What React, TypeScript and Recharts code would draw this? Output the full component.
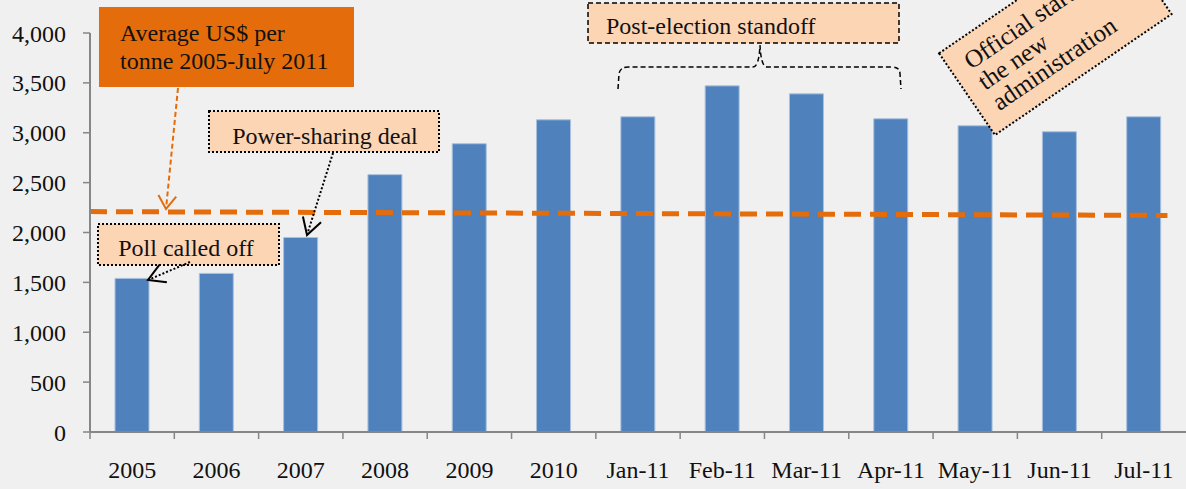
import { BarChart, Bar, XAxis, YAxis, ReferenceLine } from 'recharts';

// Cocoa price, US$ per tonne (yearly averages, then monthly for 2011)
const categories = ['2005', '2006', '2007', '2008', '2009', '2010', 'Jan-11', 'Feb-11', 'Mar-11', 'Apr-11', 'May-11', 'Jun-11', 'Jul-11'];
const pricePerTonne = [1540, 1590, 1950, 2580, 2890, 3130, 3160, 3470, 3390, 3140, 3070, 3010, 3160];
const yTicks = [0, 500, 1000, 1500, 2000, 2500, 3000, 3500, 4000];
// the drawn average line, read at the first and last category
const averageLine = [2208, 2172];

const W = 1186;
const H = 489;
const FONT = '"Liberation Serif", "Times New Roman", serif';
const ORANGE = '#e46c0a';
const PEACH = '#fcd5b5';
const BLUE = '#4f81bd';
const AXIS = '#868686';
const INK = '#111';

const data = categories.map((label, i) => ({ label, price: pricePerTonne[i] }));

function arrowHead(x1: number, y1: number, x2: number, y2: number, len = 18, spread = 32) {
  const a = Math.atan2(y1 - y2, x1 - x2);
  const s = (spread * Math.PI) / 180;
  return `${x2 + len * Math.cos(a + s)},${y2 + len * Math.sin(a + s)} ${x2},${y2} ${x2 + len * Math.cos(a - s)},${y2 + len * Math.sin(a - s)}`;
}

// category label with the tick mark on the left edge of its band
function BandTick(props: any) {
  const { x, y, payload } = props;
  const half = payload?.offset || 42.15;
  return (
    <g>
      <line x1={x - half} y1={y} x2={x - half} y2={y + 7} stroke={AXIS} strokeWidth={1.5} />
      <text x={x} y={y + 29} dy="0.71em" textAnchor="middle" fill={INK} fontSize={24} fontFamily={FONT}>
        {payload.value}
      </text>
    </g>
  );
}

// dashed average line, stretched from the y axis to just short of the right edge
function AverageShape(props: any) {
  const { x1, y1, x2, y2 } = props;
  const step = (x2 - x1) / (categories.length - 1);
  const slope = (y2 - y1) / (x2 - x1);
  const sx = x1 - step / 2;
  const ex = x2 + step * 0.28;
  return (
    <line
      x1={sx}
      y1={y1 + slope * (sx - x1)}
      x2={ex}
      y2={y1 + slope * (ex - x1)}
      stroke={ORANGE}
      strokeWidth={5}
      strokeDasharray="17 9"
    />
  );
}

function Annotations() {
  const txt = { fontFamily: FONT, fontSize: 24, fill: INK };
  return (
    <svg width={W} height={H} style={{ position: 'absolute', left: 0, top: 0, pointerEvents: 'none' }}>
      {/* average label */}
      <rect x={99} y={7} width={255} height={80} fill={ORANGE} />
      <text x={120} y={41} {...txt}>Average US$ per</text>
      <text x={120} y={69} {...txt}>tonne 2005-July 2011</text>
      <line x1={178} y1={88} x2={166} y2={209} stroke={ORANGE} strokeWidth={2} strokeDasharray="5 3" />
      <polyline points={arrowHead(178, 88, 166, 209, 16, 34)} fill="none" stroke={ORANGE} strokeWidth={2} />

      {/* power-sharing */}
      <rect x={209} y={111} width={230} height={41} fill={PEACH} stroke="#000" strokeWidth={2} strokeDasharray="2 2" />
      <text x={325} y={144} textAnchor="middle" {...txt}>Power-sharing deal</text>
      <line x1={333} y1={153} x2={307} y2={235} stroke="#000" strokeWidth={2} strokeDasharray="2 2" />
      <polyline points={arrowHead(333, 153, 307, 235, 19, 30)} fill="none" stroke="#000" strokeWidth={2} />

      {/* poll */}
      <rect x={98} y={224} width={181} height={41} fill={PEACH} stroke="#000" strokeWidth={2} strokeDasharray="2 2" />
      <text x={186} y={256} textAnchor="middle" {...txt}>Poll called off</text>
      <line x1={190} y1={262} x2={148} y2={280} stroke="#000" strokeWidth={2} strokeDasharray="2 2" />
      <polyline points={arrowHead(190, 262, 148, 280, 19, 30)} fill="none" stroke="#000" strokeWidth={2} />

      {/* post-election standoff */}
      <rect x={588} y={3} width={311} height={40} fill={PEACH} stroke="#000" strokeWidth={1.5} strokeDasharray="5 3" />
      <text x={606} y={34} {...txt}>Post-election standoff</text>
      <path
        d="M618,89 L619,74 Q620,67 628,67 L753,67 Q759,67 760,45 Q761,67 767,67 L892,67 Q900,67 900,74 L901,89"
        fill="none"
        stroke="#000"
        strokeWidth={1.5}
        strokeDasharray="5 3"
      />

      {/* new administration */}
      <g transform="translate(995,135) rotate(-34.4)">
        <rect x={0} y={-99} width={214} height={99} fill={PEACH} stroke="#000" strokeWidth={2} strokeDasharray="2 2" />
        <text x={17} y={-67} {...txt} fontSize={25}>Official start of</text>
        <text x={17} y={-42} {...txt} fontSize={25}>the new</text>
        <text x={17} y={-17} {...txt} fontSize={25}>administration</text>
      </g>
    </svg>
  );
}

export default function App() {
  return (
    <div style={{ position: 'absolute', left: 0, top: 0, width: W, height: H, background: '#f0f0f0', fontFamily: FONT }}>
      <BarChart width={W} height={H} data={data} margin={{ top: 33, right: 0, bottom: 0, left: 0 }} barSize={34}>
        <XAxis
          dataKey="label"
          height={57}
          interval={0}
          axisLine={{ stroke: AXIS, strokeWidth: 2 }}
          tickLine={false}
          tickSize={0}
          tickMargin={0}
          tick={<BandTick />}
        />
        <YAxis
          domain={[0, 4000]}
          ticks={yTicks}
          interval={0}
          width={90}
          tickSize={7}
          tickMargin={17}
          tickFormatter={(v: number) => v.toLocaleString('en-US')}
          tick={{ fill: INK, fontSize: 24, fontFamily: FONT }}
          tickLine={{ stroke: AXIS, strokeWidth: 1.5 }}
          axisLine={{ stroke: AXIS, strokeWidth: 2 }}
        />
        <Bar dataKey="price" fill={BLUE} stroke="#a9c1de" strokeWidth={1} isAnimationActive={false} />
        <ReferenceLine
          segment={[
            { x: categories[0], y: averageLine[0] },
            { x: categories[categories.length - 1], y: averageLine[1] },
          ]}
          ifOverflow="visible"
          shape={<AverageShape />}
        />
      </BarChart>
      <Annotations />
    </div>
  );
}
